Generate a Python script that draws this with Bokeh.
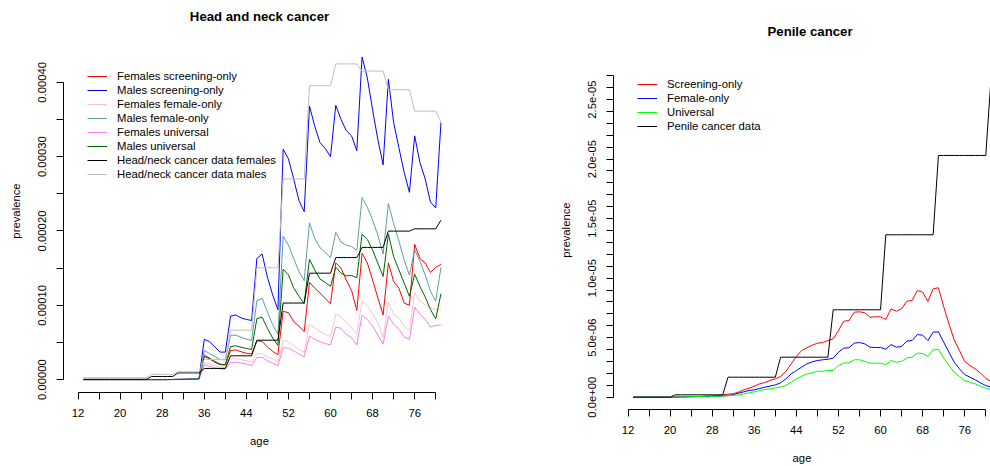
from bokeh.plotting import figure
from bokeh.layouts import row
from bokeh.models import (Range1d, FixedTicker, PrintfTickFormatter,
                          CustomJSTickFormatter, Legend, LegendItem)
from bokeh.embed import file_html
from bokeh.resources import INLINE

FONT = "Liberation Sans"
FS = "11.3px"

# ---------------- data ----------------
ages = [13, 14, 15, 16, 17, 18, 19, 20, 21, 22, 23, 24, 25, 26, 27, 28, 29, 30,
        31, 32, 33, 34, 35, 36, 37, 38, 39, 40, 41, 42, 43, 44, 45, 46, 47, 48,
        49, 50, 51, 52, 53, 54, 55, 56, 57, 58, 59, 60, 61, 62, 63, 64, 65, 66,
        67, 68, 69, 70, 71, 72, 73, 74, 75, 76, 77, 78, 79, 80, 81]

x_major_ticks = [12, 20, 28, 36, 44, 52, 60, 68, 76]
x_minor_ticks = [16, 24, 32, 40, 48, 56, 64, 72, 80]

hn_y_major = [0.0, 0.0001, 0.0002, 0.0003, 0.0004]
hn_y_minor = [0.00005, 0.00015, 0.00025, 0.00035]

pen_y_major = [0.0, 5e-6, 1e-5, 1.5e-5, 2e-5, 2.5e-5]
pen_y_minor = [1e-6, 2e-6, 3e-6, 4e-6, 6e-6, 7e-6, 8e-6, 9e-6, 1.1e-5, 1.2e-5,
               1.3e-5, 1.4e-5, 1.6e-5, 1.7e-5, 1.8e-5, 1.9e-5, 2.1e-5, 2.2e-5,
               2.3e-5, 2.4e-5, 2.6e-5, 2.7e-5]

# Head and neck cancer (ages 13..81)
f_screen = [0, 0, 0, 0, 0, 0, 0, 0, 0, 0, 0, 0, 0, 0, 0, 0, 0, 1e-7, 2e-7, 3e-7, 4e-7, 5e-7, 7e-7,
            3.3e-5, 2.9e-5, 2.45e-5, 2.1e-5, 2.0e-5,
            3.9e-5, 4.0e-5, 3.75e-5, 3.55e-5, 3.45e-5,
            5.2e-5, 5.15e-5, 4.4e-5, 3.8e-5, 3.35e-5,
            9.2e-5, 9.0e-5, 7.8e-5, 7.2e-5, 6.45e-5,
            1.31e-4, 1.23e-4, 1.165e-4, 1.09e-4, 1.02e-4,
            1.57e-4, 1.5e-4, 1.34e-4, 1.2e-4, 9.3e-5,
            1.7e-4, 1.57e-4, 1.34e-4, 1.1e-4, 8.7e-5,
            1.57e-4, 1.32e-4, 1.23e-4, 1.03e-4, 1.0e-4,
            1.82e-4, 1.63e-4, 1.57e-4, 1.44e-4, 1.51e-4,
            1.55e-4]
m_screen = [0, 0, 0, 0, 0, 0, 0, 0, 0, 0, 0, 0, 0, 0, 0, 0, 0, 2e-7, 3e-7, 5e-7, 7e-7, 9e-7, 1.1e-6,
            5.43e-5, 5.1e-5, 4.4e-5, 3.7e-5, 3.7e-5,
            8.54e-5, 8.7e-5, 8.3e-5, 8.1e-5, 7.95e-5,
            1.63e-4, 1.69e-4, 1.38e-4, 1.14e-4, 9.4e-5,
            3.1e-4, 2.97e-4, 2.7e-4, 2.41e-4, 2.26e-4,
            3.68e-4, 3.41e-4, 3.19e-4, 3.11e-4, 3.0e-4,
            3.69e-4, 3.5e-4, 3.35e-4, 3.28e-4, 3.08e-4,
            4.34e-4, 4.06e-4, 3.63e-4, 3.23e-4, 2.89e-4,
            4.04e-4, 3.46e-4, 3.12e-4, 2.79e-4, 2.52e-4,
            3.28e-4, 2.92e-4, 2.7e-4, 2.39e-4, 2.31e-4,
            3.46e-4]
f_female = [0, 0, 0, 0, 0, 0, 0, 0, 0, 0, 0, 0, 0, 0, 0, 0, 0, 1e-7, 1e-7, 2e-7, 3e-7, 4e-7, 5e-7,
            2.3e-5, 2.1e-5, 1.87e-5, 1.64e-5, 1.64e-5,
            2.76e-5, 2.85e-5, 2.67e-5, 2.54e-5, 2.4e-5,
            3.5e-5, 3.5e-5, 3.07e-5, 2.76e-5, 2.44e-5,
            5.3e-5, 5.1e-5, 4.55e-5, 4.1e-5, 3.65e-5,
            7.4e-5, 7.0e-5, 6.45e-5, 6.1e-5, 5.8e-5,
            8.8e-5, 8.5e-5, 7.65e-5, 7.0e-5, 6.1e-5,
            1.06e-4, 9.9e-5, 8.85e-5, 7.65e-5, 5.65e-5,
            1.04e-4, 8.8e-5, 8.3e-5, 7.2e-5, 6.6e-5,
            1.17e-4, 1.05e-4, 1.01e-4, 9.65e-5, 9.4e-5,
            9.5e-5]
m_female = [0, 0, 0, 0, 0, 0, 0, 0, 0, 0, 0, 0, 0, 0, 0, 0, 0, 2e-7, 2e-7, 3e-7, 5e-7, 7e-7, 9e-7,
            3.96e-5, 3.5e-5, 3.1e-5, 2.7e-5, 2.65e-5,
            5.97e-5, 5.97e-5, 5.7e-5, 5.45e-5, 5.25e-5,
            1.06e-4, 1.095e-4, 9.1e-5, 7.4e-5, 6.1e-5,
            1.93e-4, 1.81e-4, 1.63e-4, 1.455e-4, 1.33e-4,
            2.11e-4, 1.9e-4, 1.775e-4, 1.71e-4, 1.64e-4,
            1.98e-4, 1.85e-4, 1.81e-4, 1.79e-4, 1.74e-4,
            2.45e-4, 2.32e-4, 2.145e-4, 1.945e-4, 1.69e-4,
            2.37e-4, 2.1e-4, 1.865e-4, 1.61e-4, 1.405e-4,
            1.75e-4, 1.59e-4, 1.41e-4, 1.19e-4, 1.055e-4,
            1.51e-4]
f_univ = [0, 0, 0, 0, 0, 0, 0, 0, 0, 0, 0, 0, 0, 0, 0, 0, 0, 1e-7, 1e-7, 2e-7, 2e-7, 3e-7, 4e-7,
          2.0e-5, 1.78e-5, 1.6e-5, 1.43e-5, 1.43e-5,
          2.31e-5, 2.36e-5, 2.22e-5, 2.1e-5, 1.87e-5,
          2.98e-5, 2.98e-5, 2.54e-5, 2.22e-5, 1.87e-5,
          4.3e-5, 4.23e-5, 3.87e-5, 3.43e-5, 3.07e-5,
          5.87e-5, 5.43e-5, 5.1e-5, 4.85e-5, 4.67e-5,
          7.07e-5, 6.9e-5, 6.1e-5, 5.65e-5, 4.67e-5,
          8.67e-5, 8.1e-5, 7.2e-5, 6.0e-5, 4.76e-5,
          8.54e-5, 7.43e-5, 6.77e-5, 5.74e-5, 5.43e-5,
          9.74e-5, 8.77e-5, 8.1e-5, 7.07e-5, 7.3e-5,
          7.34e-5]
m_univ = [0, 0, 0, 0, 0, 0, 0, 0, 0, 0, 0, 0, 0, 0, 0, 0, 0, 1e-7, 2e-7, 3e-7, 4e-7, 6e-7, 8e-7,
          3.1e-5, 2.8e-5, 2.35e-5, 2.0e-5, 1.98e-5,
          4.45e-5, 4.55e-5, 4.35e-5, 4.2e-5, 4.05e-5,
          8.2e-5, 8.4e-5, 6.9e-5, 5.6e-5, 4.6e-5,
          1.485e-4, 1.41e-4, 1.235e-4, 1.12e-4, 1.025e-4,
          1.62e-4, 1.477e-4, 1.352e-4, 1.308e-4, 1.254e-4,
          1.512e-4, 1.432e-4, 1.397e-4, 1.401e-4, 1.37e-4,
          1.957e-4, 1.886e-4, 1.744e-4, 1.566e-4, 1.388e-4,
          1.957e-4, 1.655e-4, 1.477e-4, 1.299e-4, 1.121e-4,
          1.419e-4, 1.254e-4, 1.112e-4, 9.43e-5, 8.18e-5,
          1.157e-4]
hn_data_f = [5e-7, 5e-7, 5e-7, 5e-7, 5e-7, 5e-7, 5e-7, 5e-7, 5e-7, 5e-7, 5e-7, 5e-7, 5e-7,
             4.2e-6, 4.2e-6, 4.2e-6, 4.2e-6, 4.2e-6,
             9e-6, 9e-6, 9e-6, 9e-6, 9e-6,
             1.5e-5, 1.5e-5, 1.5e-5, 1.5e-5, 1.5e-5,
             3.2e-5, 3.2e-5, 3.2e-5, 3.2e-5, 3.2e-5,
             5.3e-5, 5.3e-5, 5.3e-5, 5.3e-5, 5.3e-5,
             1.03e-4, 1.03e-4, 1.03e-4, 1.03e-4, 1.03e-4,
             1.432e-4, 1.432e-4, 1.432e-4, 1.432e-4, 1.432e-4,
             1.642e-4, 1.642e-4, 1.642e-4, 1.642e-4, 1.642e-4,
             1.779e-4, 1.779e-4, 1.779e-4, 1.779e-4, 1.779e-4,
             1.998e-4, 1.998e-4, 1.998e-4, 1.998e-4, 1.998e-4,
             2.029e-4, 2.029e-4, 2.029e-4, 2.029e-4, 2.029e-4,
             2.145e-4]
hn_data_m = [2.5e-6, 2.5e-6, 2.5e-6, 2.5e-6, 2.5e-6, 2.5e-6, 2.5e-6, 2.5e-6, 2.5e-6, 2.5e-6, 2.5e-6, 2.5e-6, 2.5e-6,
             7e-6, 7e-6, 7e-6, 7e-6, 7e-6,
             1.05e-5, 1.05e-5, 1.05e-5, 1.05e-5, 1.05e-5,
             2.7e-5, 2.7e-5, 2.7e-5, 2.7e-5, 2.7e-5,
             6.65e-5, 6.65e-5, 6.65e-5, 6.65e-5, 6.65e-5,
             1.505e-4, 1.505e-4, 1.505e-4, 1.505e-4, 1.505e-4,
             2.7e-4, 2.7e-4, 2.7e-4, 2.7e-4, 2.7e-4,
             3.954e-4, 3.954e-4, 3.954e-4, 3.954e-4, 3.954e-4,
             4.248e-4, 4.248e-4, 4.248e-4, 4.248e-4, 4.248e-4,
             4.152e-4, 4.152e-4, 4.152e-4, 4.152e-4, 4.152e-4,
             3.901e-4, 3.901e-4, 3.901e-4, 3.901e-4, 3.901e-4,
             3.613e-4, 3.613e-4, 3.613e-4, 3.613e-4, 3.613e-4,
             3.466e-4]

# Penile cancer (ages 13..81)
pen_screen = [0, 0, 0, 0, 0, 0, 0, 0, 2e-8, 3e-8, 4e-8, 5e-8, 6e-8, 7e-8, 8e-8, 1e-7, 1.2e-7,
              2.0e-7, 2.5e-7, 3.0e-7, 4.2e-7, 6.2e-7, 7.6e-7, 9.2e-7, 1.12e-6, 1.23e-6, 1.4e-6, 1.54e-6,
              1.74e-6, 2.15e-6, 2.8e-6, 3.42e-6, 3.92e-6, 4.15e-6, 4.37e-6, 4.53e-6, 4.59e-6, 4.76e-6,
              4.9e-6, 5.6e-6, 6.38e-6, 6.44e-6, 7.14e-6, 7.17e-6, 7.09e-6, 6.72e-6, 6.75e-6, 6.75e-6,
              6.53e-6, 7.42e-6, 7.22e-6, 7.42e-6, 8.06e-6, 8.12e-6, 8.96e-6, 8.82e-6, 8.04e-6, 9.1e-6,
              9.19e-6, 7.6e-6, 6.16e-6, 4.8e-6, 3.92e-6, 3.0e-6, 2.66e-6, 2.38e-6, 2.02e-6, 1.6e-6,
              1.3e-6]
pen_female = [0, 0, 0, 0, 0, 0, 0, 0, 1e-8, 2e-8, 3e-8, 4e-8, 5e-8, 6e-8, 7e-8, 8e-8, 9e-8,
              1.0e-7, 1.5e-7, 2.0e-7, 3.4e-7, 4.5e-7, 5.6e-7, 6.2e-7, 7.3e-7, 8.4e-7, 9.3e-7, 1.04e-6,
              1.2e-6, 1.54e-6, 1.96e-6, 2.24e-6, 2.52e-6, 2.8e-6, 2.97e-6, 3.08e-6, 3.14e-6, 3.19e-6,
              3.28e-6, 3.78e-6, 4.12e-6, 4.15e-6, 4.54e-6, 4.59e-6, 4.48e-6, 4.2e-6, 4.17e-6, 4.17e-6,
              4.03e-6, 4.42e-6, 4.2e-6, 4.26e-6, 4.71e-6, 4.76e-6, 5.26e-6, 5.21e-6, 4.76e-6, 5.46e-6,
              5.49e-6, 4.62e-6, 3.78e-6, 2.94e-6, 2.38e-6, 1.9e-6, 1.68e-6, 1.46e-6, 1.2e-6, 9.8e-7,
              8.4e-7]
pen_univ = [0, 0, 0, 0, 0, 0, 0, 0, 1e-8, 2e-8, 3e-8, 4e-8, 5e-8, 6e-8, 2e-8, 6e-8, 8e-8,
            1.0e-7, 1.2e-7, 1.5e-7, 2.0e-7, 2.8e-7, 3.6e-7, 4.5e-7, 5.6e-7, 6.4e-7, 7.0e-7, 7.8e-7,
            8.4e-7, 9.8e-7, 1.26e-6, 1.54e-6, 1.76e-6, 1.96e-6, 2.04e-6, 2.18e-6, 2.18e-6, 2.24e-6,
            2.24e-6, 2.66e-6, 2.88e-6, 2.88e-6, 3.14e-6, 3.14e-6, 3.02e-6, 2.86e-6, 2.86e-6, 2.86e-6,
            2.74e-6, 3.08e-6, 2.94e-6, 3.0e-6, 3.3e-6, 3.36e-6, 3.7e-6, 3.67e-6, 3.42e-6, 3.98e-6,
            4.03e-6, 3.3e-6, 2.66e-6, 2.1e-6, 1.74e-6, 1.4e-6, 1.26e-6, 1.12e-6, 9.3e-7, 7.6e-7,
            6.2e-7]
pen_data = [0, 0, 0, 0, 0, 0, 0, 0,
            2e-7, 2e-7, 2e-7, 2e-7, 2e-7, 2e-7, 2e-7, 2e-7, 2e-7, 2e-7,
            1.68e-6, 1.68e-6, 1.68e-6, 1.68e-6, 1.68e-6, 1.68e-6, 1.68e-6, 1.68e-6, 1.68e-6, 1.68e-6,
            3.36e-6, 3.36e-6, 3.36e-6, 3.36e-6, 3.36e-6, 3.36e-6, 3.36e-6, 3.36e-6, 3.36e-6, 3.36e-6,
            7.34e-6, 7.34e-6, 7.34e-6, 7.34e-6, 7.34e-6, 7.34e-6, 7.34e-6, 7.34e-6, 7.34e-6, 7.34e-6,
            1.364e-5, 1.364e-5, 1.364e-5, 1.364e-5, 1.364e-5, 1.364e-5, 1.364e-5, 1.364e-5, 1.364e-5, 1.364e-5,
            2.03e-5, 2.03e-5, 2.03e-5, 2.03e-5, 2.03e-5, 2.03e-5, 2.03e-5, 2.03e-5, 2.03e-5, 2.03e-5,
            2.68e-5]

hn_series = [
    ("Females screening-only", f_screen, "#FF0000"),
    ("Males screening-only", m_screen, "#0000FF"),
    ("Females female-only", f_female, "#FFC0CB"),
    ("Males female-only", m_female, "#5F9EA0"),
    ("Females universal", f_univ, "#EE82EE"),
    ("Males universal", m_univ, "#006400"),
    ("Head/neck cancer data females", hn_data_f, "#000000"),
    ("Head/neck cancer data males", hn_data_m, "#BEBEBE"),
]
pen_series = [
    ("Screening-only", pen_screen, "#FF0000"),
    ("Female-only", pen_female, "#0000FF"),
    ("Universal", pen_univ, "#00FF00"),
    ("Penile cancer data", pen_data, "#000000"),
]


def style(p, yticks, yminor, yfmt, standoff, align, offset):
    p.outline_line_color = None
    p.grid.visible = False
    p.background_fill_color = "white"
    p.border_fill_color = "white"
    for ax in (p.xaxis[0], p.yaxis[0]):
        ax.axis_line_color = "black"
        ax.major_tick_line_color = "black"
        ax.minor_tick_line_color = "black"
        ax.major_tick_out = 7
        ax.major_tick_in = 0
        ax.minor_tick_out = 7
        ax.minor_tick_in = 0
        ax.major_label_text_font = FONT
        ax.major_label_text_font_size = FS
        ax.major_label_text_color = "black"
        ax.axis_label_text_font = FONT
        ax.axis_label_text_font_size = FS
        ax.axis_label_text_font_style = "normal"
        ax.axis_label_text_color = "black"
    p.xaxis[0].ticker = FixedTicker(ticks=x_major_ticks, minor_ticks=x_minor_ticks)
    p.xaxis[0].bounds = (x_major_ticks[0], x_minor_ticks[-1])
    p.xaxis[0].axis_label = "age"
    p.xaxis[0].major_label_standoff = 9
    p.xaxis[0].axis_label_standoff = 15
    p.yaxis[0].ticker = FixedTicker(ticks=yticks, minor_ticks=yminor)
    p.yaxis[0].bounds = (yticks[0], max(yticks + yminor))
    p.yaxis[0].formatter = yfmt
    p.yaxis[0].axis_label = "prevalence"
    p.yaxis[0].major_label_orientation = "vertical"
    p.yaxis[0].major_label_standoff = 10
    p.yaxis[0].axis_label_standoff = 14
    p.title.text_font = FONT
    p.title.text_font_size = "13.2px"
    p.title.text_font_style = "bold"
    p.title.text_color = "black"
    p.title.align = align
    p.title.offset = offset
    p.title.standoff = standoff


def legend(p, items, loc):
    lg = Legend(items=items, location=loc, padding=0, margin=0, spacing=0,
                glyph_width=20, glyph_height=14, label_height=14,
                label_standoff=10, border_line_color=None,
                background_fill_alpha=0,
                label_text_font=FONT, label_text_font_size=FS,
                label_text_color="black")
    p.add_layout(lg)


# ---------------- left: head and neck ----------------
p1 = figure(width=500, height=466, output_backend="svg", toolbar_location=None,
            title="Head and neck cancer",
            x_range=Range1d(9.24, 83.76), y_range=Range1d(-1.735e-5, 4.711e-4),
            min_border_left=63, min_border_right=45,
            min_border_top=26, min_border_bottom=74, frame_align=False)
items1 = []
for name, vals, col in hn_series:
    r = p1.line(ages, vals, line_color=col, line_width=1)
    items1.append(LegendItem(label=name, renderers=[r]))
style(p1, hn_y_major, hn_y_minor, PrintfTickFormatter(format="%.5f"), 12, "center", 0)
legend(p1, items1, (24, 211))

# ---------------- right: penile ----------------
p2 = figure(width=490, height=466, output_backend="svg", toolbar_location=None,
            title="Penile cancer",
            x_range=Range1d(9.24, 80.9), y_range=Range1d(-1.033e-6, 2.9115e-5),
            min_border_left=113, min_border_right=0,
            min_border_top=50, min_border_bottom=57, frame_align=False)
items2 = []
for name, vals, col in pen_series:
    r = p2.line(ages, vals, line_color=col, line_width=1)
    items2.append(LegendItem(label=name, renderers=[r]))
fmt = CustomJSTickFormatter(code="""
    const s = tick.toExponential(1);
    return s.replace(/e([+-])(\\d)$/, 'e$10$2');
""")
style(p2, pen_y_major, pen_y_minor, fmt, 23, "left", 154)
legend(p2, items2, (24, 276))

layout = row(p1, p2)
open("out.html", "w").write(file_html(layout, INLINE))
